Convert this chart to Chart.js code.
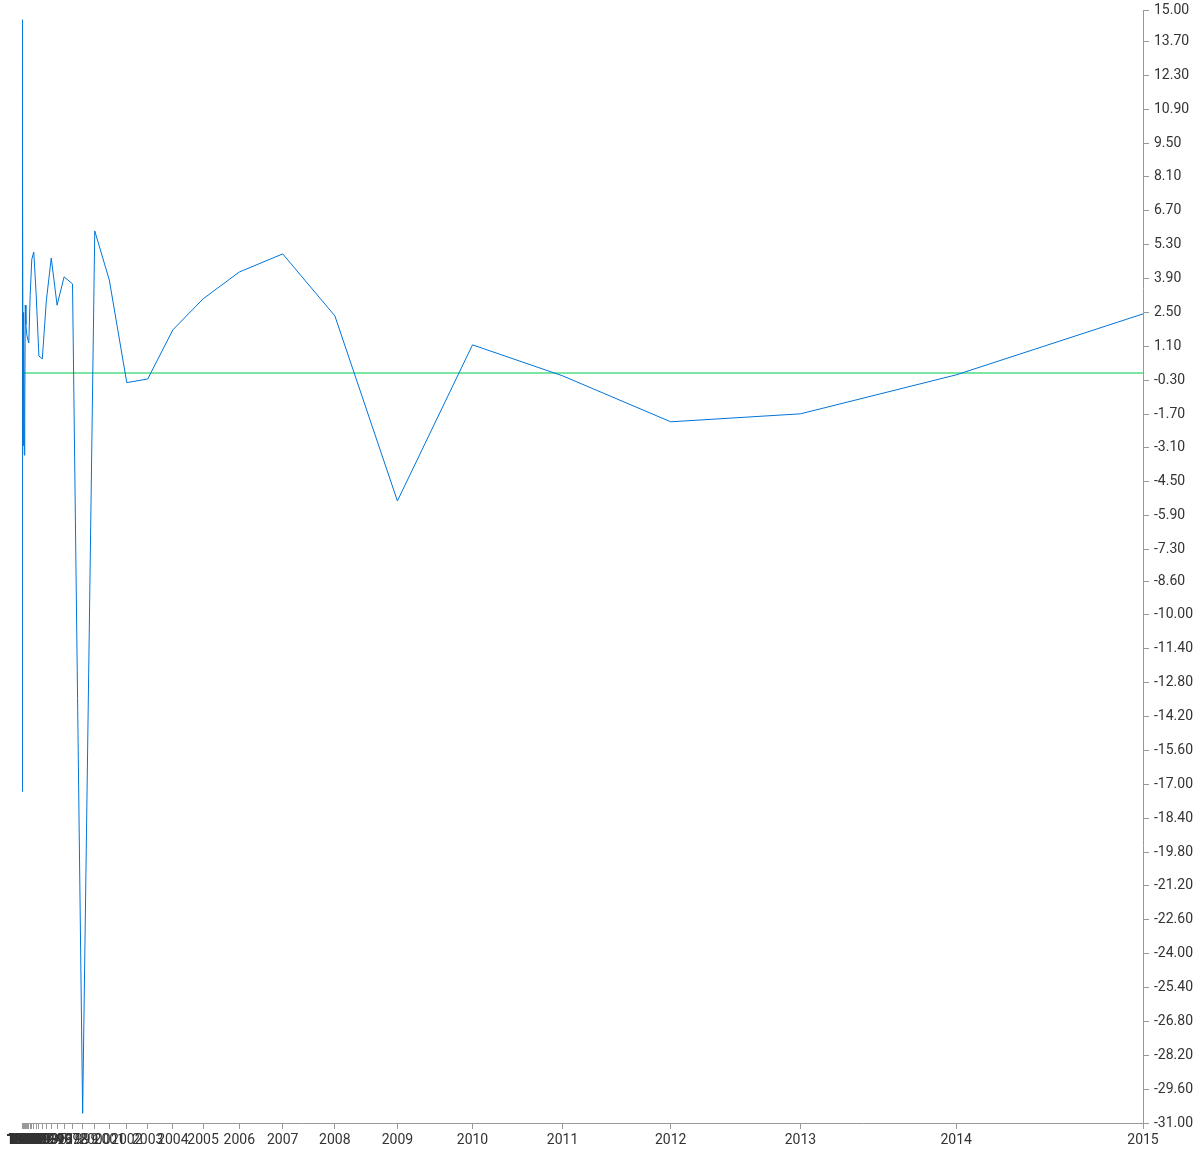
<!DOCTYPE html>
<html><head><meta charset="utf-8">
<script src="https://cdn.jsdelivr.net/npm/chart.js@4/dist/chart.umd.min.js"></script>
<style>html,body{margin:0;padding:0;background:#fff}canvas{display:block}</style>
</head><body>
<canvas id="c" width="1200" height="1150"></canvas>
<script>
// ---- data ----
const years = [1960,1961,1962,1963,1964,1965,1966,1967,1968,1969,
  1970,1971,1972,1973,1974,1975,1976,1977,1978,1979,
  1980,1981,1982,1983,1984,1985,1986,1987,1988,1989,
  1990,1991,1992,1993,1994,1995,1996,1997,1998,1999,
  2000,2001,2002,2003,2004,2005,2006,2007,2008,2009,
  2010,2011,2012,2013,2014,2015];
const values = [12.8,-15.9,14.1,-16.4,13.5,-17.0,14.6,-16.2,13.2,-17.3,
  14.3,-15.5,13.8,-16.8,14.4,-17.1,12.9,-3.0,2.5,-1.5,
  2.2,-3.4,-2.0,2.8,2.0,1.6,1.4,1.24,3.2,4.7,
  5.0,3.3,0.7,0.58,3.0,4.75,2.8,3.97,3.68,-30.6,
  5.87,3.84,-0.4,-0.25,1.78,3.06,4.17,4.92,2.36,-5.29,
  1.16,-0.12,-2.02,-1.69,-0.08,2.44];
const baselineYears = [1960, 2015];
const baselineValues = [0, 0];
const yTickValues = [15.0,13.7,12.3,10.9,9.5,8.1,6.7,5.3,3.9,2.5,1.1,-0.3,-1.7,-3.1,-4.5,-5.9,-7.3,-8.6,
  -10.0,-11.4,-12.8,-14.2,-15.6,-17.0,-18.4,-19.8,-21.2,-22.6,-24.0,-25.4,-26.8,-28.2,-29.6,-31.0];
const xTickYears = years;
const GROWTH = 1.2; // spacing ratio between consecutive years on the x axis

// ---- exponential year scale ----
class ExpYearScale extends Chart.LinearScale {
  buildTicks() { return xTickYears.map(v => ({ value: v })); }
  getPixelForValue(value) {
    return this.getPixelForDecimal(Math.pow(GROWTH, value - this.max));
  }
  getValueForPixel(pixel) {
    const d = Math.max(this.getDecimalForPixel(pixel), 1e-9);
    return this.max + Math.log(d) / Math.log(GROWTH);
  }
}
ExpYearScale.id = 'expyear';
ExpYearScale.defaults = { ticks: { callback: v => String(v) } };
Chart.register(ExpYearScale);

Chart.defaults.font.family = 'Roboto';
Chart.defaults.font.size = 14;
Chart.defaults.color = '#333';

const axisColor = '#999';

new Chart(document.getElementById('c'), {
  type: 'line',
  data: {
    datasets: [
      {
        data: years.map((y, i) => ({ x: y, y: values[i] })),
        borderColor: '#0074d9', borderWidth: 1, pointRadius: 0, tension: 0, fill: false
      },
      {
        data: baselineYears.map((y, i) => ({ x: y, y: baselineValues[i] })),
        borderColor: '#7be6a4', borderWidth: 2, pointRadius: 0, fill: false
      }
    ]
  },
  options: {
    responsive: false,
    animation: false,
    devicePixelRatio: 1,
    layout: { padding: { left: 22, top: 10, right: 0, bottom: 0 } },
    plugins: { legend: { display: false }, tooltip: { enabled: false } },
    scales: {
      x: {
        type: 'expyear',
        min: 1960, max: 2015,
        afterFit: s => { s.height = 27; s.paddingLeft = 0; s.paddingRight = 0; },
        grid: { drawOnChartArea: false, color: axisColor, tickLength: 6 },
        border: { color: axisColor },
        ticks: { autoSkip: false, maxRotation: 0, minRotation: 0, padding: 3, callback: v => String(v) }
      },
      y: {
        type: 'linear',
        position: 'right',
        min: -31, max: 15,
        afterBuildTicks: s => { s.ticks = yTickValues.map(v => ({ value: v })); },
        afterFit: s => { s.width = 57; s.paddingTop = 0; s.paddingBottom = 0; },
        grid: { drawOnChartArea: false, color: axisColor, tickLength: 6 },
        border: { color: axisColor },
        ticks: { autoSkip: false, padding: 5, callback: v => Number(v).toFixed(2) }
      }
    }
  }
});
</script>
</body></html>
